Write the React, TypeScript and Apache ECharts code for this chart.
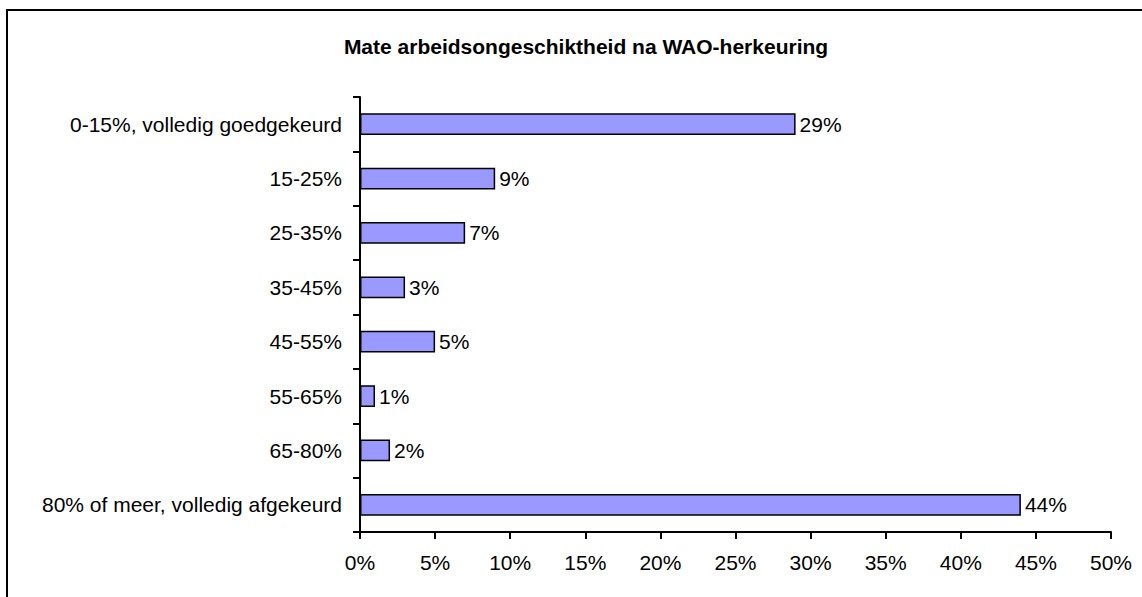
import React, { useEffect, useRef } from "react";
import * as echarts from "echarts";

const title = "Mate arbeidsongeschiktheid na WAO-herkeuring";
const categories = [
  "0-15%, volledig goedgekeurd",
  "15-25%",
  "25-35%",
  "35-45%",
  "45-55%",
  "55-65%",
  "65-80%",
  "80% of meer, volledig afgekeurd",
];
const values = [29, 9, 7, 3, 5, 1, 2, 44];
const xMin = 0;
const xMax = 50;
const xStep = 5;

export default function App() {
  const ref = useRef<HTMLDivElement>(null);
  useEffect(() => {
    if (!ref.current) return;
    const chart = echarts.init(ref.current, null, { renderer: "svg" });
    const font = "'Liberation Sans', Arial, sans-serif";
    chart.setOption({
      animation: false,
      backgroundColor: "#ffffff",
      textStyle: { fontFamily: font },
      title: {
        text: title,
        left: 581,
        textAlign: "center",
        top: 31,
        textStyle: { fontFamily: font, fontSize: 21, fontWeight: "bold", color: "#000" },
      },
      graphic: [
        {
          type: "rect",
          shape: { x: 7, y: 10, width: 1300, height: 800 },
          style: { fill: "none", stroke: "#000", lineWidth: 2 },
          silent: true,
          z: 100,
        },
      ],
      grid: { left: 360, right: 31, top: 97, bottom: 65, containLabel: false },
      xAxis: {
        type: "value",
        min: xMin,
        max: xMax,
        interval: xStep,
        axisLine: { show: true, lineStyle: { color: "#000", width: 2 } },
        axisTick: { show: true, length: 7, lineStyle: { color: "#000", width: 2 } },
        splitLine: { show: false },
        axisLabel: {
          formatter: (v: number) => `${v}%`,
          color: "#000",
          fontSize: 21,
          fontFamily: font,
          margin: 20,
        },
      },
      yAxis: {
        type: "category",
        data: categories,
        inverse: true,
        axisLine: { show: true, lineStyle: { color: "#000", width: 2 } },
        axisTick: { show: true, length: 7, lineStyle: { color: "#000", width: 2 } },
        axisLabel: { color: "#000", fontSize: 21, fontFamily: font, margin: 18 },
      },
      series: [
        {
          type: "bar",
          data: values,
          barCategoryGap: "60%",
          itemStyle: { color: "#9999FF", borderColor: "#000", borderWidth: 1.5 },
          label: {
            show: true,
            position: "right",
            distance: 4,
            formatter: (p: any) => `${p.value}%`,
            color: "#000",
            fontSize: 21,
            fontFamily: font,
          },
        },
      ],
    });
    return () => chart.dispose();
  }, []);
  return (
    <div
      ref={ref}
      style={{ position: "fixed", left: 0, top: 0, width: 1142, height: 597 }}
    />
  );
}
